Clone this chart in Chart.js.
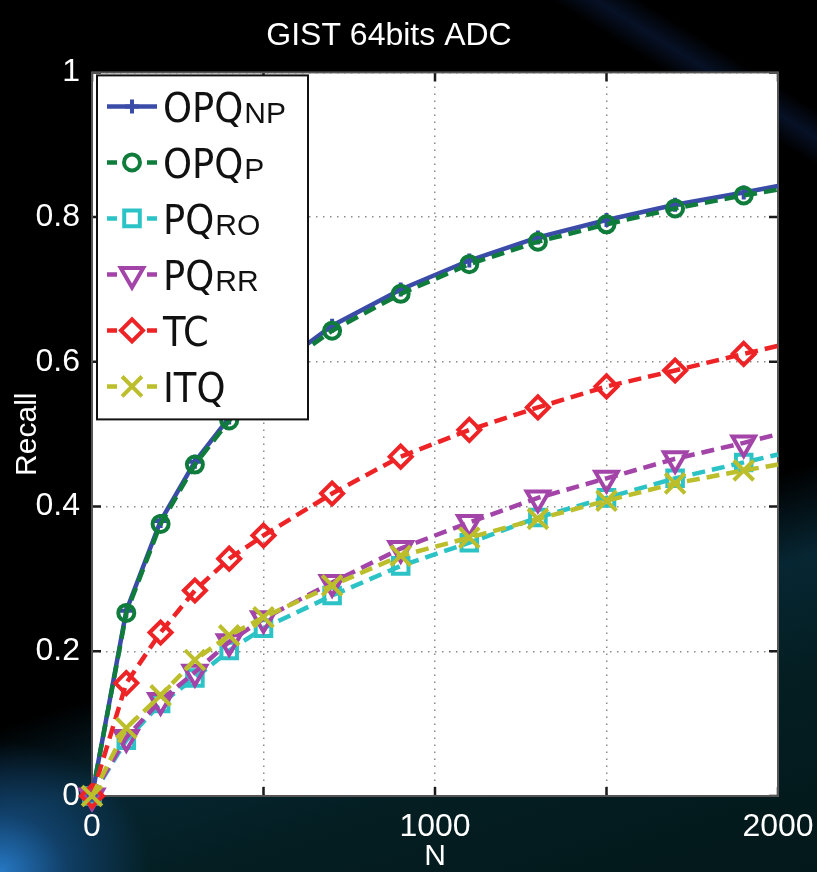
<!DOCTYPE html>
<html>
<head>
<meta charset="utf-8">
<title>GIST 64bits ADC</title>
<script src="https://cdn.jsdelivr.net/npm/chart.js@4.4.1/dist/chart.umd.min.js"></script>
<style>
  html, body { margin: 0; padding: 0; width: 817px; height: 872px; overflow: hidden; }
  body {
    background:
      radial-gradient(ellipse 150px 130px at 0% 100%, rgba(40,125,205,0.95) 0%, rgba(25,85,150,0.55) 45%, rgba(0,0,0,0) 100%),
      linear-gradient(162deg, rgba(0,0,0,0) 0%, rgba(0,0,0,0) 64%, rgba(8,45,60,0.85) 72%, rgba(4,30,34,1) 82%, rgba(3,24,26,1) 100%),
      linear-gradient(32deg, rgba(0,0,0,0) 88%, rgba(20,50,110,0.35) 90%, rgba(0,0,0,0) 92%),
      #000;
  }
  #wrap { position: relative; width: 817px; height: 872px; }
  canvas { display: block; }
</style>
</head>
<body>
<div id="wrap"><canvas id="c" width="817" height="872"></canvas></div>
<script>
// Recall@N on GIST (64-bit codes, asymmetric distance computation)
const nValues = [0, 100, 200, 300, 400, 500, 700, 900, 1100, 1300, 1500, 1700, 1900, 2000];

const recallOPQnp = [0, 0.256, 0.380, 0.462, 0.523, 0.580, 0.650, 0.700, 0.740, 0.772, 0.796, 0.817, 0.834, 0.843];
const recallOPQp  = [0, 0.253, 0.376, 0.458, 0.519, 0.576, 0.643, 0.694, 0.735, 0.766, 0.790, 0.812, 0.830, 0.838];
const recallPQro  = [0, 0.077, 0.128, 0.163, 0.201, 0.232, 0.277, 0.318, 0.350, 0.385, 0.412, 0.439, 0.461, 0.472];
const recallPQrr  = [0, 0.081, 0.132, 0.171, 0.213, 0.245, 0.295, 0.342, 0.378, 0.412, 0.439, 0.466, 0.488, 0.500];
const recallTC    = [0, 0.156, 0.226, 0.284, 0.328, 0.360, 0.418, 0.469, 0.506, 0.537, 0.566, 0.588, 0.611, 0.622];
const recallITQ   = [0, 0.094, 0.139, 0.188, 0.222, 0.247, 0.291, 0.332, 0.357, 0.383, 0.408, 0.432, 0.450, 0.458];

const methodNames = ['OPQ', 'OPQ', 'PQ', 'PQ', 'TC', 'ITQ'];
const methodSubs  = ['NP', 'P', 'RO', 'RR', '', ''];

const xTickLabels = ['0', '1000', '2000'];
const yTickValues = [0, 0.2, 0.4, 0.6, 0.8, 1];
const yTickLabels = ['0', '0.2', '0.4', '0.6', '0.8', '1'];

const TEXT_FONT = '"Liberation Sans", Arial, sans-serif';
const LEGEND_FONT = '"Liberation Sans Narrow", "DejaVu Sans Condensed", "Liberation Sans", sans-serif';

// the last sample (N = 2000) only closes the line, it carries no marker
function radii(r) { return nValues.map(n => (n === 2000 ? 0 : r)); }
function pts(values) { return nValues.map((n, i) => ({ x: n, y: values[i] })); }

const seriesStyle = [
  { values: recallOPQnp, color: '#3a4ca8', dash: [],      style: 'cross',    r: 7,  rot: 0 },
  { values: recallOPQp,  color: '#0f7c3c', dash: [13, 7], style: 'circle',   r: 8,  rot: 0 },
  { values: recallPQro,  color: '#2cc3c7', dash: [13, 7], style: 'rect',     r: 11, rot: 0 },
  { values: recallPQrr,  color: '#a344a8', dash: [13, 7], style: 'triangle', r: 13, rot: 180 },
  { values: recallTC,    color: '#ee2326', dash: [13, 7], style: 'rectRot',  r: 11, rot: 0 },
  { values: recallITQ,   color: '#bcbe2c', dash: [13, 7], style: 'crossRot', r: 14, rot: 0 }
];

const datasets = seriesStyle.map((s, i) => ({
  label: methodNames[i],
  sub: methodSubs[i],
  data: pts(s.values),
  borderColor: s.color,
  backgroundColor: s.color,
  borderWidth: 4.5,
  borderDash: s.dash,
  pointStyle: s.style,
  pointRadius: radii(s.r),
  legendRadius: s.r,
  pointRotation: s.rot,
  pointBorderColor: s.color,
  pointBackgroundColor: 'rgba(0,0,0,0)',
  pointBorderWidth: 4,
  tension: 0,
  clip: false,
  order: seriesStyle.length - i
}));

// white plotting box
const plotBackground = {
  id: 'plotBackground',
  beforeDraw(chart) {
    const { ctx, chartArea: a } = chart;
    ctx.save();
    ctx.fillStyle = '#ffffff';
    ctx.fillRect(a.left, a.top, a.right - a.left, a.bottom - a.top);
    ctx.restore();
  }
};

// axes box with inward tick marks on all four sides
const axesBox = {
  id: 'axesBox',
  beforeDatasetsDraw(chart) {
    const { ctx, chartArea: a, scales } = chart;
    ctx.save();
    ctx.strokeStyle = '#1a1a1a';
    ctx.lineWidth = 2.5;
    const tl = 9;
    scales.x.ticks.forEach(t => {
      const px = scales.x.getPixelForValue(t.value);
      ctx.beginPath();
      ctx.moveTo(px, a.bottom); ctx.lineTo(px, a.bottom - tl);
      ctx.moveTo(px, a.top); ctx.lineTo(px, a.top + tl);
      ctx.stroke();
    });
    scales.y.ticks.forEach(t => {
      const py = scales.y.getPixelForValue(t.value);
      ctx.beginPath();
      ctx.moveTo(a.left, py); ctx.lineTo(a.left + tl, py);
      ctx.moveTo(a.right, py); ctx.lineTo(a.right - tl, py);
      ctx.stroke();
    });
    ctx.strokeStyle = '#555555';
    ctx.lineWidth = 2;
    ctx.strokeRect(a.left, a.top, a.right - a.left, a.bottom - a.top);
    ctx.restore();
  }
};

function drawMarker(ctx, style, r, rot, x, y) {
  if (Chart.helpers && Chart.helpers.drawPoint) {
    Chart.helpers.drawPoint(ctx, { pointStyle: style, radius: r, rotation: rot, borderWidth: ctx.lineWidth }, x, y);
    return;
  }
  ctx.beginPath();
  ctx.arc(x, y, r, 0, Math.PI * 2);
  ctx.stroke();
}

// boxed legend in the upper-left corner of the axes, names with subscripts
const boxedLegend = {
  id: 'boxedLegend',
  afterDraw(chart) {
    const { ctx, chartArea: a } = chart;
    const left = a.left + 5, top = a.top + 3, w = 211, h = 344;
    ctx.save();
    ctx.fillStyle = '#ffffff';
    ctx.fillRect(left, top, w, h);
    ctx.strokeStyle = '#111111';
    ctx.lineWidth = 2;
    ctx.strokeRect(left, top, w, h);

    chart.data.datasets.forEach((ds, i) => {
      const cy = top + 31 + i * 56;
      const x0 = left + 10, x1 = left + 60, xm = (x0 + x1) / 2;
      ctx.strokeStyle = ds.borderColor;
      ctx.lineWidth = 4.5;
      ctx.setLineDash(ds.borderDash.length ? [10, 30] : []);
      ctx.beginPath();
      ctx.moveTo(x0, cy); ctx.lineTo(x1, cy);
      ctx.stroke();
      ctx.setLineDash([]);
      ctx.lineWidth = ds.pointBorderWidth;
      ctx.fillStyle = 'rgba(0,0,0,0)';
      drawMarker(ctx, ds.pointStyle, ds.legendRadius, ds.pointRotation, xm, cy);

      ctx.fillStyle = '#111111';
      ctx.textBaseline = 'alphabetic';
      ctx.textAlign = 'left';
      ctx.font = '41px ' + LEGEND_FONT;
      const tx = left + 66, ty = cy + 16;
      ctx.fillText(ds.label, tx, ty);
      if (ds.sub) {
        const wMain = ctx.measureText(ds.label).width;
        ctx.font = '30px ' + TEXT_FONT;
        ctx.fillText(ds.sub, tx + wMain + 1, ty + 1);
      }
    });
    ctx.restore();
  }
};

new Chart(document.getElementById('c'), {
  type: 'line',
  data: { datasets },
  plugins: [plotBackground, axesBox, boxedLegend],
  options: {
    responsive: false,
    animation: false,
    events: [],
    layout: { padding: { left: 0, right: 39, top: 0, bottom: 0 } },
    plugins: {
      legend: { display: false },
      tooltip: { enabled: false },
      title: {
        display: true,
        text: 'GIST 64bits ADC',
        color: '#ffffff',
        font: { family: TEXT_FONT, size: 32, weight: 'normal', lineHeight: 1.2 },
        padding: { top: 17, bottom: 17 }
      }
    },
    scales: {
      x: {
        type: 'linear',
        min: 0,
        max: 2000,
        afterFit(scale) {
          scale.height = 76;
          scale.paddingLeft = 0;
          scale.paddingRight = 0;
        },
        ticks: {
          stepSize: 500,
          color: '#ffffff',
          padding: 12,
          maxRotation: 0,
          font: { family: TEXT_FONT, size: 32 },
          callback: v => (xTickLabels.includes(String(v)) ? String(v) : '')
        },
        grid: { color: '#8c8c8c', lineWidth: 1.5, drawTicks: false },
        border: { display: false, dash: [1.5, 5.5] },
        title: {
          display: true,
          text: 'N',
          color: '#ffffff',
          font: { family: TEXT_FONT, size: 30, lineHeight: 1 },
          padding: { top: 0, bottom: 0 }
        }
      },
      y: {
        type: 'linear',
        min: 0,
        max: 1,
        afterFit(scale) {
          scale.width = 92;
          scale.paddingTop = 0;
          scale.paddingBottom = 0;
        },
        afterBuildTicks(scale) { scale.ticks = yTickValues.map(v => ({ value: v })); },
        ticks: {
          color: '#ffffff',
          padding: 12,
          font: { family: TEXT_FONT, size: 32 },
          callback: (v, i) => yTickLabels[i]
        },
        grid: { color: '#8c8c8c', lineWidth: 1.5, drawTicks: false },
        border: { display: false, dash: [1.5, 5.5] },
        title: {
          display: true,
          text: 'Recall',
          color: '#ffffff',
          font: { family: TEXT_FONT, size: 30, lineHeight: 1 },
          padding: { top: 13, bottom: 0 }
        }
      }
    }
  }
});
</script>
</body>
</html>
